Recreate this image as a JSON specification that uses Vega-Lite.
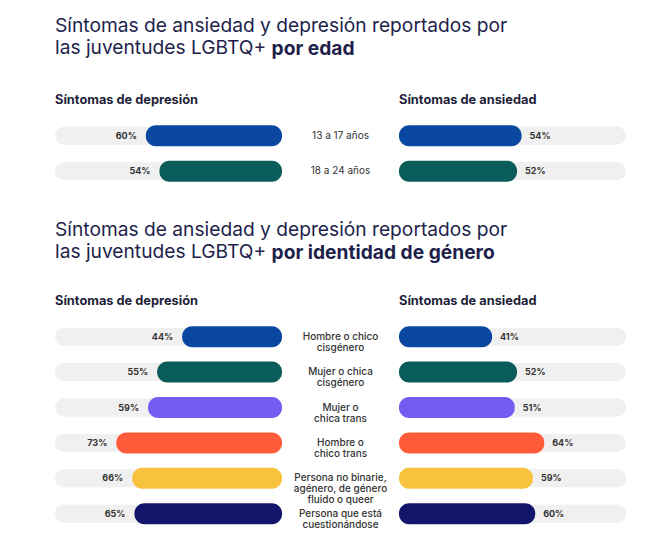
{
  "$schema": "https://vega.github.io/schema/vega-lite/v6.json",
  "padding": {"left": 55, "top": 17, "right": 5, "bottom": 5},
  "background": "white",
  "config": {
    "view": {"stroke": null},
    "font": "Inter",
    "title": {"color": "#1e1f4b"},
    "concat": {"spacing": 0}
  },
  "datasets": {
    "edad": [
      {"grupo": "13 a 17 años", "depresion": 0.60, "ansiedad": 0.54},
      {"grupo": "18 a 24 años", "depresion": 0.54, "ansiedad": 0.52}
    ],
    "genero": [
      {"grupo": "Hombre o chico\ncisgénero", "depresion": 0.44, "ansiedad": 0.41},
      {"grupo": "Mujer o chica\ncisgénero", "depresion": 0.55, "ansiedad": 0.52},
      {"grupo": "Mujer o\nchica trans", "depresion": 0.59, "ansiedad": 0.51},
      {"grupo": "Hombre o\nchico trans", "depresion": 0.73, "ansiedad": 0.64},
      {"grupo": "Persona no binarie,\nagénero, de género\nfluido o queer", "depresion": 0.66, "ansiedad": 0.59},
      {"grupo": "Persona que está\ncuestionándose", "depresion": 0.65, "ansiedad": 0.60}
    ]
  },
  "resolve": {"scale": {"color": "shared"}},
  "vconcat": [
    {
      "title": {
        "text": ["Síntomas de ansiedad y depresión reportados por", "las juventudes LGBTQ+"],
        "subtitle": "\u200b\u00a0\u00a0\u00a0\u00a0\u00a0\u00a0\u00a0\u00a0\u00a0\u00a0\u00a0\u00a0\u00a0\u00a0\u00a0\u00a0\u00a0\u00a0\u00a0\u00a0\u00a0\u00a0\u00a0\u00a0\u00a0\u00a0\u00a0\u00a0\u00a0\u00a0\u00a0\u00a0\u00a0\u00a0\u00a0\u00a0\u00a0\u00a0\u00a0\u00a0\u00a0\u00a0\u00a0\u00a0\u00a0\u00a0\u00a0\u2009por edad",
        "anchor": "start",
        "fontSize": 19.2,
        "fontWeight": "normal",
        "lineHeight": 22,
        "subtitleFontSize": 19.2,
        "subtitleFontWeight": "bold",
        "subtitleColor": "#1e1f4b",
        "subtitlePadding": -18.5,
        "offset": 35
      },
      "spacing": 0,
      "hconcat": [
        {
          "width": 227,
          "height": {"step": 35.5},
          "title": {"text": "Síntomas de depresión", "anchor": "start", "fontSize": 12.8, "fontWeight": "bold", "color": "#1f1f3a", "offset": 11},
          "data": {"name": "edad"},
          "encoding": {
            "y": {"field": "grupo", "type": "nominal", "sort": null, "axis": null, "scale": {"paddingInner": 0, "paddingOuter": 0}}
          },
          "layer": [
            {
              "mark": {"type": "bar", "color": "#f0f0f0", "cornerRadius": 9, "height": 18},
              "encoding": {
                "x": {"datum": 1, "type": "quantitative", "scale": {"domain": [0, 1], "reverse": true}, "axis": null},
                "x2": {"datum": 0}
              }
            },
            {
              "mark": {"type": "bar", "cornerRadius": 10, "height": 21},
              "encoding": {
                "x": {"field": "depresion", "type": "quantitative"},
                "x2": {"datum": 0},
                "color": {"field": "grupo", "type": "nominal", "legend": null}
              }
            },
            {
              "mark": {"type": "text", "align": "right", "dx": -9, "fontSize": 9, "fontWeight": "bold", "color": "#333333"},
              "encoding": {
                "x": {"field": "depresion", "type": "quantitative"},
                "text": {"field": "depresion", "type": "quantitative", "format": ".0%"}
              }
            }
          ]
        },
        {
          "width": 117,
          "height": {"step": 35.5},
          "title": {"text": " ", "fontSize": 12.8, "offset": 11},
          "data": {"name": "edad"},
          "mark": {"type": "text", "fontSize": 10, "color": "#333333", "lineBreak": "\n", "lineHeight": 11},
          "encoding": {
            "y": {"field": "grupo", "type": "nominal", "sort": null, "axis": null, "scale": {"type": "band", "paddingInner": 0, "paddingOuter": 0}},
            "text": {"field": "grupo"}
          }
        },
        {
          "width": 227,
          "height": {"step": 35.5},
          "title": {"text": "Síntomas de ansiedad", "anchor": "start", "fontSize": 12.8, "fontWeight": "bold", "color": "#1f1f3a", "offset": 11},
          "data": {"name": "edad"},
          "encoding": {
            "y": {"field": "grupo", "type": "nominal", "sort": null, "axis": null, "scale": {"paddingInner": 0, "paddingOuter": 0}}
          },
          "layer": [
            {
              "mark": {"type": "bar", "color": "#f0f0f0", "cornerRadius": 9, "height": 18},
              "encoding": {
                "x": {"datum": 1, "type": "quantitative", "scale": {"domain": [0, 1]}, "axis": null},
                "x2": {"datum": 0}
              }
            },
            {
              "mark": {"type": "bar", "cornerRadius": 10, "height": 21},
              "encoding": {
                "x": {"field": "ansiedad", "type": "quantitative"},
                "x2": {"datum": 0},
                "color": {"field": "grupo", "type": "nominal", "legend": null}
              }
            },
            {
              "mark": {"type": "text", "align": "left", "dx": 8, "fontSize": 9, "fontWeight": "bold", "color": "#333333"},
              "encoding": {
                "x": {"field": "ansiedad", "type": "quantitative"},
                "text": {"field": "ansiedad", "type": "quantitative", "format": ".0%"}
              }
            }
          ]
        }
      ]
    },
    {
      "title": {
        "text": ["Síntomas de ansiedad y depresión reportados por", "las juventudes LGBTQ+"],
        "subtitle": "\u200b\u00a0\u00a0\u00a0\u00a0\u00a0\u00a0\u00a0\u00a0\u00a0\u00a0\u00a0\u00a0\u00a0\u00a0\u00a0\u00a0\u00a0\u00a0\u00a0\u00a0\u00a0\u00a0\u00a0\u00a0\u00a0\u00a0\u00a0\u00a0\u00a0\u00a0\u00a0\u00a0\u00a0\u00a0\u00a0\u00a0\u00a0\u00a0\u00a0\u00a0\u00a0\u00a0\u00a0\u00a0\u00a0\u00a0\u00a0\u2009por identidad de género",
        "anchor": "start",
        "fontSize": 19.2,
        "fontWeight": "normal",
        "lineHeight": 22,
        "subtitleFontSize": 19.2,
        "subtitleFontWeight": "bold",
        "subtitleColor": "#1e1f4b",
        "subtitlePadding": -18.5,
        "offset": 32
      },
      "spacing": 0,
      "hconcat": [
        {
          "width": 227,
          "height": {"step": 35.4},
          "title": {"text": "Síntomas de depresión", "anchor": "start", "fontSize": 12.8, "fontWeight": "bold", "color": "#1f1f3a", "offset": 11},
          "data": {"name": "genero"},
          "encoding": {
            "y": {"field": "grupo", "type": "nominal", "sort": null, "axis": null, "scale": {"paddingInner": 0, "paddingOuter": 0}}
          },
          "layer": [
            {
              "mark": {"type": "bar", "color": "#f0f0f0", "cornerRadius": 9, "height": 18},
              "encoding": {
                "x": {"datum": 1, "type": "quantitative", "scale": {"domain": [0, 1], "reverse": true}, "axis": null},
                "x2": {"datum": 0}
              }
            },
            {
              "mark": {"type": "bar", "cornerRadius": 10, "height": 21},
              "encoding": {
                "x": {"field": "depresion", "type": "quantitative"},
                "x2": {"datum": 0},
                "color": {"field": "grupo", "type": "nominal", "legend": null}
              }
            },
            {
              "mark": {"type": "text", "align": "right", "dx": -9, "fontSize": 9, "fontWeight": "bold", "color": "#333333"},
              "encoding": {
                "x": {"field": "depresion", "type": "quantitative"},
                "text": {"field": "depresion", "type": "quantitative", "format": ".0%"}
              }
            }
          ]
        },
        {
          "width": 117,
          "height": {"step": 35.4},
          "title": {"text": " ", "fontSize": 12.8, "offset": 11},
          "data": {"name": "genero"},
          "mark": {"type": "text", "fontSize": 10, "fontWeight": 500, "color": "#333333", "lineBreak": "\n", "lineHeight": 11},
          "encoding": {
            "y": {"field": "grupo", "type": "nominal", "sort": null, "axis": null, "scale": {"type": "band", "paddingInner": 0, "paddingOuter": 0}},
            "text": {"field": "grupo"}
          }
        },
        {
          "width": 227,
          "height": {"step": 35.4},
          "title": {"text": "Síntomas de ansiedad", "anchor": "start", "fontSize": 12.8, "fontWeight": "bold", "color": "#1f1f3a", "offset": 11},
          "data": {"name": "genero"},
          "encoding": {
            "y": {"field": "grupo", "type": "nominal", "sort": null, "axis": null, "scale": {"paddingInner": 0, "paddingOuter": 0}}
          },
          "layer": [
            {
              "mark": {"type": "bar", "color": "#f0f0f0", "cornerRadius": 9, "height": 18},
              "encoding": {
                "x": {"datum": 1, "type": "quantitative", "scale": {"domain": [0, 1]}, "axis": null},
                "x2": {"datum": 0}
              }
            },
            {
              "mark": {"type": "bar", "cornerRadius": 10, "height": 21},
              "encoding": {
                "x": {"field": "ansiedad", "type": "quantitative"},
                "x2": {"datum": 0},
                "color": {
                  "field": "grupo", "type": "nominal", "legend": null,
                  "scale": {
                    "domain": ["13 a 17 años", "18 a 24 años", "Hombre o chico\ncisgénero", "Mujer o chica\ncisgénero", "Mujer o\nchica trans", "Hombre o\nchico trans", "Persona no binarie,\nagénero, de género\nfluido o queer", "Persona que está\ncuestionándose"],
                    "range": ["#0a47a0", "#0a5c5a", "#0a47a0", "#0a5c5a", "#735cf2", "#ff5a3a", "#f9c23c", "#13156a"]
                  }
                }
              }
            },
            {
              "mark": {"type": "text", "align": "left", "dx": 8, "fontSize": 9, "fontWeight": "bold", "color": "#333333"},
              "encoding": {
                "x": {"field": "ansiedad", "type": "quantitative"},
                "text": {"field": "ansiedad", "type": "quantitative", "format": ".0%"}
              }
            }
          ]
        }
      ]
    }
  ],
  "spacing": 32
}
